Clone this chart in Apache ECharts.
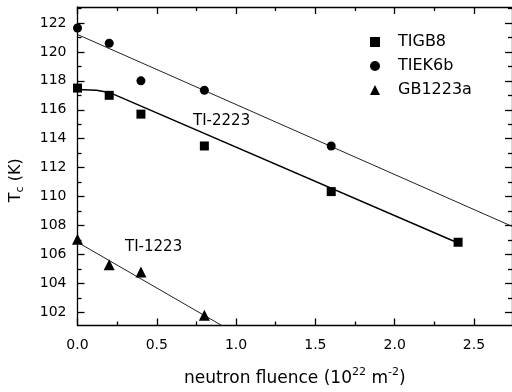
<!DOCTYPE html>
<html>
<head>
<meta charset="utf-8">
<script src="https://cdn.jsdelivr.net/npm/echarts@6/dist/echarts.min.js"></script>
<style>
  html, body { margin: 0; padding: 0; background: #fff; }
  #chart { width: 512px; height: 392px; }
</style>
</head>
<body>
<div id="chart"></div>
<script>
// measured points
const fluence = [0, 0.2, 0.4, 0.8, 1.6, 2.4]
const tigb8 = [117.5, 117.0, 115.7, 113.5, 110.35, 106.85]
const tiek6b = [121.65, 120.6, 118.0, 117.35, 113.5]
const gb1223a = [107.05, 105.3, 104.8, 101.8]

// fit lines drawn in the figure
const fitEK6b = [[0, 121.2], [2.74, 107.95]]
const fitGB8 = [[0, 117.4], [0.12, 117.35], [0.2, 117.2], [2.4, 106.8]]
const fitGB1223 = [[0, 106.85], [0.91, 101.1]]

// ticks
const xMajor = [0, 0.5, 1.0, 1.5, 2.0, 2.5]
const xMinor = [0.25, 0.75, 1.25, 1.75, 2.25]
const yMajor = [102, 104, 106, 108, 110, 112, 114, 116, 118, 120, 122]
const yMinor = [101, 103, 105, 107, 109, 111, 113, 115, 117, 119, 121, 123]

const X_MIN = 0, X_MAX = 2.74
const Y_MIN = 101.1, Y_MAX = 123.1

const font = 'DejaVu Sans'

function pairs(xs, ys) {
    return ys.map((y, i) => [xs[i], y])
}

function tickAxis(position, min, max, values, len, showLine) {
    return {
        type: 'value',
        position: position,
        min: min,
        max: max,
        axisLine: { show: showLine, onZero: false, lineStyle: { color: '#000', width: 1.3 } },
        axisTick: { show: true, inside: true, length: len, customValues: values, lineStyle: { color: '#000', width: 1.3 } },
        axisLabel: { show: false },
        splitLine: { show: false }
    }
}

const chart = echarts.init(document.getElementById('chart'))

const xBottom = tickAxis('bottom', X_MIN, X_MAX, xMajor, 7, true)
xBottom.axisLabel = {
    show: true,
    customValues: xMajor,
    formatter: v => v.toFixed(1),
    color: '#000',
    fontFamily: font,
    fontSize: 14,
    margin: 13
}
xBottom.name = 'neutron fluence (10{sup|22} m{sup|-2})'
xBottom.nameLocation = 'middle'
xBottom.nameGap = 41
xBottom.nameTextStyle = {
    color: '#000',
    fontFamily: font,
    fontSize: 17,
    rich: {
        sup: { fontFamily: font, fontSize: 11, color: '#000', padding: [0, 0, 13, 0] }
    }
}

const yLeft = tickAxis('left', Y_MIN, Y_MAX, yMajor, 7, true)
yLeft.axisLabel = {
    show: true,
    customValues: yMajor,
    color: '#000',
    fontFamily: font,
    fontSize: 14,
    margin: 11
}
yLeft.name = 'T{sub|c} (K)'
yLeft.nameLocation = 'middle'
yLeft.nameGap = 52
yLeft.nameTextStyle = {
    color: '#000',
    fontFamily: font,
    fontSize: 16,
    padding: [0, 28, 0, 0],
    rich: {
        sub: { fontFamily: font, fontSize: 11, color: '#000', padding: [8, 0, 0, 0] }
    }
}

const option = {
    animation: false,
    backgroundColor: '#fff',
    grid: { left: 75, top: 7, width: 438, height: 321 },
    legend: {
        orient: 'vertical',
        left: 365,
        top: 29,
        itemWidth: 10,
        itemHeight: 10,
        itemGap: 8,
        textStyle: { color: '#000', fontFamily: font, fontSize: 16, padding: [0, 0, 0, 13] },
        data: [
            { name: 'TIGB8', icon: 'rect' },
            { name: 'TIEK6b', icon: 'circle' },
            { name: 'GB1223a', icon: 'triangle' }
        ]
    },
    xAxis: [
        xBottom,
        tickAxis('bottom', X_MIN, X_MAX, xMinor, 4, false),
        tickAxis('top', X_MIN, X_MAX, xMajor, 7, true),
        tickAxis('top', X_MIN, X_MAX, xMinor, 4, false)
    ],
    yAxis: [
        yLeft,
        tickAxis('left', Y_MIN, Y_MAX, yMinor, 4, false),
        tickAxis('right', Y_MIN, Y_MAX, yMajor, 7, true),
        tickAxis('right', Y_MIN, Y_MAX, yMinor, 4, false)
    ],
    graphic: [
        { type: 'text', left: 193, top: 114, style: { text: 'TI-2223', fill: '#000', font: '15px "DejaVu Sans"' } },
        { type: 'text', left: 125, top: 240, style: { text: 'TI-1223', fill: '#000', font: '15px "DejaVu Sans"' } }
    ],
    series: [
        {
            type: 'line', data: fitEK6b, showSymbol: false, symbol: 'none', silent: true,
            lineStyle: { color: '#222', width: 1 }, z: 1
        },
        {
            type: 'line', data: fitGB8, showSymbol: false, symbol: 'none', silent: true,
            lineStyle: { color: '#000', width: 1.5 }, z: 1
        },
        {
            type: 'line', data: fitGB1223, showSymbol: false, symbol: 'none', silent: true,
            lineStyle: { color: '#222', width: 1 }, z: 1
        },
        {
            name: 'TIGB8', type: 'scatter', symbol: 'rect', symbolSize: 9,
            data: pairs(fluence, tigb8), itemStyle: { color: '#000', opacity: 1 }, z: 3
        },
        {
            name: 'TIEK6b', type: 'scatter', symbol: 'circle', symbolSize: 9,
            data: pairs(fluence, tiek6b), itemStyle: { color: '#000', opacity: 1 }, z: 3
        },
        {
            name: 'GB1223a', type: 'scatter', symbol: 'triangle', symbolSize: 11,
            data: pairs(fluence, gb1223a), itemStyle: { color: '#000', opacity: 1 }, z: 3
        }
    ]
}

chart.setOption(option)
</script>
</body>
</html>
